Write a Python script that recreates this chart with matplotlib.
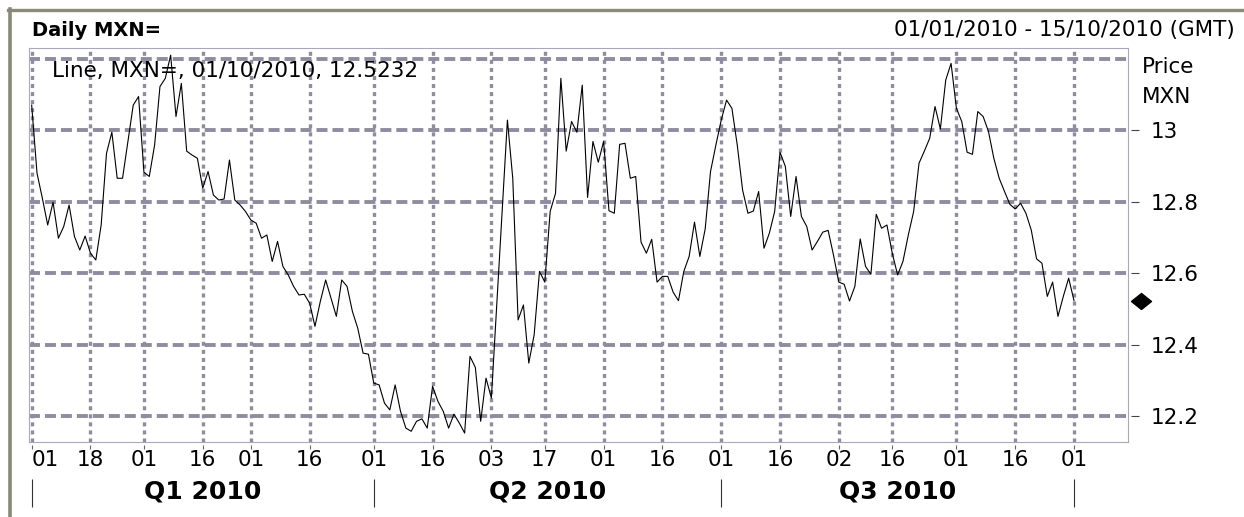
import matplotlib
matplotlib.use("Agg")
import matplotlib.pyplot as plt
import matplotlib.transforms as mtransforms
from matplotlib.lines import Line2D
import numpy as np
import pandas as pd

plt.rcParams["font.family"] = ["DejaVu Sans"]
plt.rcParams["lines.scale_dashes"] = False

# --- dati: chiusure giornaliere MXN= (giorni lavorativi 01/01 - 01/10/2010) ---
trade_days = pd.bdate_range("2010-01-01", "2010-10-01")
price = [
    13.071, 12.880, 12.810, 12.735, 12.799, 12.698, 12.731, 12.791, 12.703, 12.665,
    12.704, 12.656, 12.637, 12.735, 12.936, 12.995, 12.866, 12.866, 12.969, 13.071,
    13.095, 12.883, 12.871, 12.959, 13.123, 13.146, 13.211, 13.039, 13.132, 12.942,
    12.931, 12.922, 12.838, 12.885, 12.819, 12.805, 12.808, 12.917, 12.805, 12.791,
    12.773, 12.749, 12.740, 12.698, 12.707, 12.633, 12.689, 12.619, 12.595, 12.563,
    12.539, 12.541, 12.516, 12.451, 12.521, 12.581, 12.530, 12.479, 12.581, 12.563,
    12.493, 12.446, 12.376, 12.373, 12.292, 12.287, 12.236, 12.217, 12.287, 12.213,
    12.166, 12.157, 12.185, 12.192, 12.166, 12.283, 12.241, 12.213, 12.166, 12.205,
    12.180, 12.152, 12.367, 12.336, 12.185, 12.306, 12.250, 12.511, 12.773, 13.029,
    12.866, 12.469, 12.511, 12.348, 12.427, 12.605, 12.575, 12.773, 12.824, 13.146,
    12.942, 13.025, 12.995, 13.127, 12.812, 12.969, 12.911, 12.969, 12.775, 12.768,
    12.961, 12.964, 12.866, 12.871, 12.687, 12.656, 12.695, 12.575, 12.591, 12.591,
    12.547, 12.523, 12.605, 12.647, 12.743, 12.647, 12.724, 12.885, 12.959, 13.029,
    13.085, 13.062, 12.959, 12.833, 12.768, 12.774, 12.829, 12.670, 12.712, 12.773,
    12.939, 12.899, 12.759, 12.871, 12.759, 12.731, 12.665, 12.689, 12.715, 12.720,
    12.651, 12.575, 12.569, 12.522, 12.563, 12.696, 12.619, 12.597, 12.765, 12.726,
    12.735, 12.656, 12.595, 12.633, 12.707, 12.773, 12.908, 12.942, 12.978, 13.067,
    13.004, 13.141, 13.188, 13.062, 13.025, 12.939, 12.933, 13.053, 13.039, 12.997,
    12.922, 12.866, 12.829, 12.793, 12.780, 12.796, 12.768, 12.721, 12.640, 12.628,
    12.535, 12.575, 12.479, 12.535, 12.586, 12.5232,
]
tick_dates = [
    "2010-01-01", "2010-01-18", "2010-02-01", "2010-02-16", "2010-03-01",
    "2010-03-16", "2010-04-01", "2010-04-16", "2010-05-03", "2010-05-17",
    "2010-06-01", "2010-06-16", "2010-07-01", "2010-07-16", "2010-08-02",
    "2010-08-16", "2010-09-01", "2010-09-16", "2010-10-01",
]
quarter_starts = ["2010-01-01", "2010-04-01", "2010-07-01", "2010-10-01"]
quarter_labels = ["Q1 2010", "Q2 2010", "Q3 2010"]
y_grid = [12.2, 12.4, 12.6, 12.8, 13.0, 13.2]
y_labels = ["12.2", "12.4", "12.6", "12.8", "13", ""]

GRID = "#8e8c9e"
SPINE = "#a8a8bc"
BORDER = "#8a8a78"
W, H = 1244, 517

fig = plt.figure(figsize=(W / 100, H / 100), dpi=100)
ax = fig.add_axes([29 / W, 1 - 442 / H, 1099 / W, 394 / H])

x = np.arange(len(price))
ax.plot(x, price, color="black", lw=0.8, zorder=3)
ax.set_xlim(-0.5, 205.1)
ax.set_ylim(12.127, 13.231)

tick_idx = [trade_days.get_loc(pd.Timestamp(d)) for d in tick_dates]
ax.set_xticks(tick_idx)
ax.set_xticklabels([pd.Timestamp(d).strftime("%d") for d in tick_dates])
ax.get_xticklabels()[0].set_ha("left")
ax.tick_params(axis="x", length=0, pad=6, labelsize=15.5)

ax.yaxis.tick_right()
ax.set_yticks(y_grid)
ax.set_yticklabels(y_labels)
ax.tick_params(axis="y", length=0, pad=16, labelsize=15.5)

ax.xaxis.grid(True, color=GRID, lw=2.4, linestyle=(0, (2.9, 2.9)))
ax.yaxis.grid(True, color=GRID, lw=2.8, linestyle=(0, (7.9, 3.6)))
ax.set_axisbelow(True)
for sp in ax.spines.values():
    sp.set_color(SPINE)
    sp.set_linewidth(0.8)

# tacche staccate dal bordo, come nell'originale
bx = mtransforms.blended_transform_factory(ax.transData, ax.transAxes)
ax.vlines(tick_idx, -0.008, -0.018, transform=bx, clip_on=False, color="#666666", lw=0.8)
by = mtransforms.blended_transform_factory(ax.transAxes, ax.transData)
ax.hlines(y_grid[:-1], 1.0027, 1.010, transform=by, clip_on=False, color="#444444", lw=0.8)

# marcatore dell'ultimo valore
ax.plot([1.0115], [price[-1]], transform=by, clip_on=False, linestyle="none",
        marker=[(0, -0.8), (1, 0), (0, 0.8), (-1, 0), (0, -0.8)], ms=14.4, color="black")

# trimestri
q_idx = [trade_days.get_loc(pd.Timestamp(d)) for d in quarter_starts]
bq = mtransforms.blended_transform_factory(ax.transData, fig.transFigure)
ax.vlines(q_idx, 1 - 479 / H, 1 - 507 / H, transform=bq, clip_on=False, color="#333333", lw=0.8)
for lab, a, b in zip(quarter_labels, q_idx[:-1], q_idx[1:]):
    ax.text((a + b) / 2, 1 - 492 / H, lab, transform=bq, ha="center", va="center",
            fontsize=18, fontweight="bold")

# testi
fig.text(31.7 / W, 1 - 36 / H, "Daily MXN=", fontsize=14, fontweight="bold", va="baseline")
fig.text(1235 / W, 1 - 36 / H, "01/01/2010 - 15/10/2010 (GMT)", fontsize=15.5,
         ha="right", va="baseline")
legend_txt = f"Line, MXN=, {trade_days[-1]:%d/%m/%Y}, {price[-1]:.4f}"
fig.text(51.7 / W, 1 - 76.7 / H, legend_txt, fontsize=15.5, va="baseline")
fig.text(1141.7 / W, 1 - 67 / H, "Price", fontsize=15.5, va="center")
fig.text(1141.7 / W, 1 - 97 / H, "MXN", fontsize=15.5, va="center")

# cornice grigia della pagina
fig.add_artist(Line2D([8 / W, 1], [1 - 10 / H, 1 - 10 / H], transform=fig.transFigure,
                      color=BORDER, lw=2.4))
fig.add_artist(Line2D([10 / W, 10 / W], [0, 1 - 9 / H], transform=fig.transFigure,
                      color=BORDER, lw=2.6))

fig.savefig("out.png", dpi=100)
